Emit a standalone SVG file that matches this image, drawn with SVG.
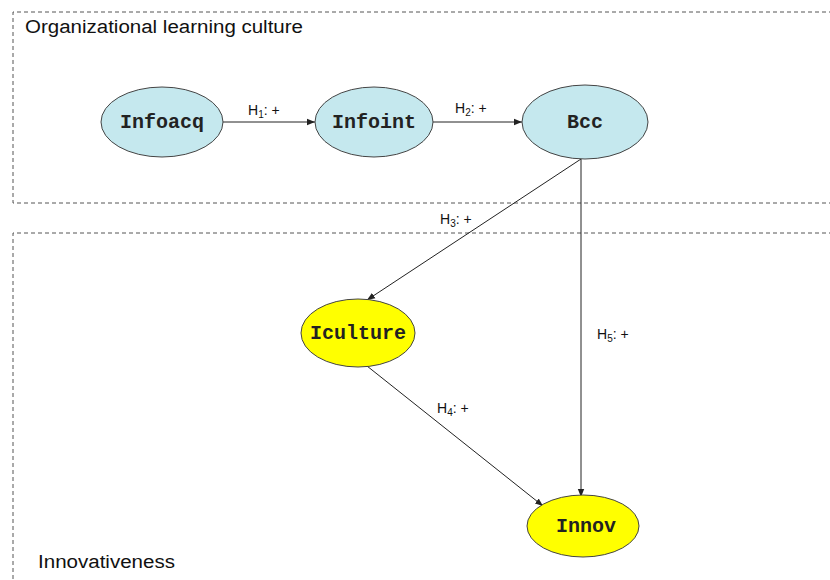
<svg xmlns="http://www.w3.org/2000/svg" width="830" height="580" viewBox="0 0 830 580">
<defs>
<style>
.box{fill:none;stroke:#555;stroke-width:1;stroke-dasharray:4,3}
.title{font-family:"Liberation Sans",Arial,sans-serif;font-size:18px;fill:#111}
.blue{fill:#c5e8ee;stroke:#444;stroke-width:1}
.yellow{fill:#ffff00;stroke:#444;stroke-width:1}
.lbl{font-family:"Liberation Mono","Courier New",monospace;font-size:20px;font-weight:bold;fill:#222;text-anchor:middle}
.edge{stroke:#222;stroke-width:1;fill:none;marker-end:url(#arr)}
.elbl{font-family:"Liberation Sans",Arial,sans-serif;font-size:14px;fill:#111}
.sub{font-size:10px}
</style>
<marker id="arr" viewBox="0 0 10 10" refX="10" refY="5" markerWidth="8" markerHeight="8" markerUnits="userSpaceOnUse" orient="auto">
<path d="M0,1 L10,5 L0,9 Z" fill="#222"/>
</marker>
</defs>
<rect width="830" height="580" fill="#fff"/>
<g id="group-olc">
<path class="box" d="M840,12 H13 V203 H840"/>
<text class="title" x="25" y="33" textLength="278" lengthAdjust="spacingAndGlyphs">Organizational learning culture</text>
</g>
<g id="group-innovativeness">
<path class="box" d="M840,233 H13 V590"/>
<text class="title" x="38" y="568" textLength="137" lengthAdjust="spacingAndGlyphs">Innovativeness</text>
</g>
<g id="connectors">
<line class="edge" x1="223" y1="122" x2="315" y2="122"/>
<line class="edge" x1="433" y1="122" x2="522" y2="122"/>
<line class="edge" x1="581" y1="159" x2="367" y2="300"/>
<line class="edge" x1="581" y1="159" x2="581" y2="497"/>
<line class="edge" x1="367" y1="366" x2="543" y2="506"/>
<text class="elbl" x="248" y="115">H<tspan class="sub" dy="3">1</tspan><tspan dy="-3">: +</tspan></text>
<text class="elbl" x="455" y="113">H<tspan class="sub" dy="3">2</tspan><tspan dy="-3">: +</tspan></text>
<text class="elbl" x="440" y="224">H<tspan class="sub" dy="3">3</tspan><tspan dy="-3">: +</tspan></text>
<text class="elbl" x="437" y="413">H<tspan class="sub" dy="3">4</tspan><tspan dy="-3">: +</tspan></text>
<text class="elbl" x="597" y="339">H<tspan class="sub" dy="3">5</tspan><tspan dy="-3">: +</tspan></text>
</g>
<g id="node-infoacq">
<ellipse class="blue" cx="162" cy="122" rx="61" ry="35"/>
<text class="lbl" x="162" y="128">Infoacq</text>
</g>
<g id="node-infoint">
<ellipse class="blue" cx="374" cy="122" rx="59" ry="35"/>
<text class="lbl" x="374" y="128">Infoint</text>
</g>
<g id="node-bcc">
<ellipse class="blue" cx="585" cy="122" rx="63" ry="37"/>
<text class="lbl" x="585" y="128">Bcc</text>
</g>
<g id="node-iculture">
<ellipse class="yellow" cx="358" cy="333" rx="57" ry="34"/>
<text class="lbl" x="358" y="339">Iculture</text>
</g>
<g id="node-innov">
<ellipse class="yellow" cx="583" cy="526" rx="56" ry="31"/>
<text class="lbl" x="586" y="532">Innov</text>
</g>
</svg>
